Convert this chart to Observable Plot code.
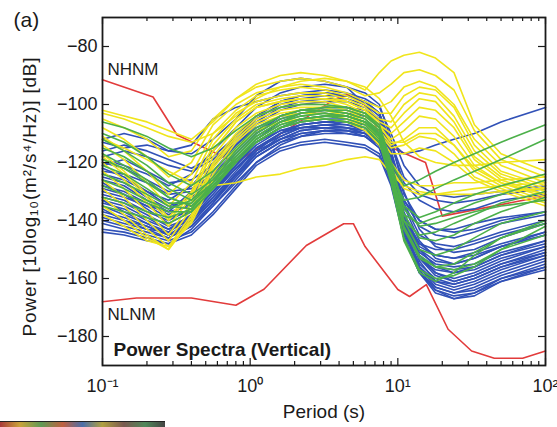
<!DOCTYPE html>
<html><head><meta charset="utf-8">
<script src="https://cdn.jsdelivr.net/npm/d3@7"></script>
<script src="https://cdn.jsdelivr.net/npm/@observablehq/plot@0.6"></script>
<style>
body{margin:0;background:#fff;}
#chart{position:relative;width:557px;height:427px;overflow:hidden;}
#strip{position:absolute;left:0;top:421px;width:165px;height:6px;border-top:1px solid #222;
background:linear-gradient(90deg,#a83a3a 0%,#c9a33a 12%,#5f9a55 25%,#c06040 38%,#4c6ea8 50%,#b0a040 62%,#7a5a50 75%,#50885a 88%,#444 100%);}
</style></head><body><div id="chart"><div id="strip"></div></div>
<script>
const periods = [0.1,0.14,0.2,0.28,0.4,0.56,0.8,1.1,1.6,2.2,3.2,4.5,6,7.5,9,11,14,18,24,33,50,100];

const blueSpectra = [
[-119,-121,-124,-128,-124,-116,-108,-101,-96,-94,-93,-94,-96,-100,-112,-130,-143,-149,-151,-150,-146,-141],
[-122,-125,-130,-133,-128,-120,-111,-104,-99,-97,-96,-97,-99,-103,-116,-135,-147,-153,-155,-153,-149,-144],
[-125,-127,-132,-136,-131,-123,-114,-107,-102,-100,-99,-99,-101,-105,-118,-137,-150,-156,-158,-156,-152,-147],
[-128,-130,-134,-138,-134,-126,-117,-110,-104,-102,-101,-101,-103,-107,-120,-139,-152,-158,-161,-159,-155,-150],
[-131,-133,-137,-140,-136,-128,-119,-112,-106,-103,-102,-103,-104,-108,-121,-140,-154,-161,-163,-161,-157,-152],
[-134,-136,-140,-143,-138,-130,-121,-113,-108,-105,-104,-104,-106,-110,-123,-142,-156,-163,-165,-163,-159,-154],
[-137,-139,-142,-145,-140,-132,-123,-115,-110,-107,-106,-106,-108,-112,-124,-143,-157,-164,-167,-165,-160,-156],
[-140,-142,-144,-146,-142,-134,-125,-117,-112,-109,-108,-108,-109,-113,-126,-145,-158,-165,-167,-166,-161,-157],
[-143,-144,-146,-148,-143,-135,-126,-118,-113,-111,-110,-110,-111,-115,-127,-146,-158,-164,-166,-165,-161,-156],
[-127,-131,-136,-141,-137,-129,-121,-114,-109,-107,-106,-107,-108,-111,-122,-139,-150,-154,-155,-153,-149,-145],
[-133,-137,-141,-144,-139,-131,-122,-115,-111,-108,-107,-108,-110,-113,-124,-141,-151,-155,-156,-155,-151,-147],
[-124,-126,-130,-135,-132,-126,-119,-113,-109,-108,-108,-109,-111,-114,-125,-140,-148,-150,-150,-148,-145,-141],
[-136,-140,-143,-146,-142,-135,-127,-120,-115,-113,-112,-113,-114,-117,-127,-143,-153,-157,-158,-157,-153,-149],
[-130,-132,-135,-137,-130,-121,-113,-106,-101,-99,-98,-98,-100,-104,-117,-134,-145,-148,-149,-147,-144,-140],
[-139,-141,-143,-144,-138,-130,-122,-116,-112,-110,-109,-109,-110,-114,-125,-140,-149,-152,-153,-152,-149,-145],
[-121,-119,-123,-127,-126,-121,-114,-108,-104,-103,-103,-104,-106,-109,-120,-133,-140,-143,-143,-141,-139,-137],
[-112,-110,-112,-116,-114,-105,-101,-99,-97,-96,-95,-96,-98,-101,-110,-121,-128,-131,-132,-131,-130,-128],
[-116,-114,-116,-119,-122,-118,-111,-104,-99,-97,-96,-97,-99,-103,-113,-125,-131,-133,-134,-133,-131,-129],
[-118,-116,-118,-121,-123,-119,-112,-105,-100,-98,-97,-97,-99,-103,-114,-127,-133,-136,-137,-136,-133,-131],
[-113,-115,-114,-116,-117,-112,-105,-97,-92,-91,-92,-94,-100,-106,-113,-117,-116,-114,-112,-110,-106,-101],
[-141,-143,-145,-147,-144,-137,-128,-120,-114,-111,-109,-109,-110,-114,-126,-144,-156,-161,-162,-160,-156,-151],
[-132,-134,-138,-142,-139,-132,-124,-117,-112,-109,-108,-108,-109,-113,-125,-143,-155,-160,-162,-160,-156,-152],
[-126,-128,-133,-137,-135,-128,-120,-113,-108,-106,-105,-105,-107,-111,-123,-141,-153,-158,-160,-158,-154,-149],
[-135,-138,-141,-145,-142,-134,-124,-116,-110,-107,-106,-106,-107,-110,-121,-138,-148,-152,-153,-151,-148,-144],
[-129,-131,-135,-139,-137,-130,-122,-115,-110,-108,-107,-108,-110,-114,-126,-144,-156,-162,-164,-162,-158,-153],
[-138,-140,-142,-145,-141,-133,-124,-117,-111,-108,-107,-107,-109,-113,-124,-141,-153,-159,-161,-159,-155,-151],
[-123,-124,-127,-131,-130,-125,-117,-110,-105,-103,-102,-102,-104,-107,-118,-133,-142,-145,-146,-144,-141,-138],
[-144,-145,-147,-148,-145,-138,-129,-121,-116,-114,-113,-114,-115,-118,-128,-146,-158,-163,-165,-164,-160,-155],
[-120,-122,-126,-130,-129,-124,-116,-109,-104,-102,-101,-101,-102,-105,-116,-131,-140,-143,-144,-143,-140,-137],
[-133,-135,-139,-143,-140,-133,-125,-118,-113,-110,-109,-110,-111,-115,-126,-142,-152,-156,-157,-156,-152,-148]
];

const greenSpectra = [
[-106,-108,-111,-115,-118,-115,-109,-104,-101,-100,-100,-101,-103,-108,-124,-142,-152,-156,-157,-155,-150,-145],
[-110,-113,-118,-124,-128,-123,-115,-108,-104,-102,-102,-103,-105,-110,-126,-146,-157,-160,-159,-156,-150,-142],
[-115,-118,-123,-129,-133,-127,-118,-111,-106,-104,-103,-104,-106,-111,-125,-143,-153,-156,-155,-151,-146,-140],
[-119,-122,-127,-132,-135,-128,-119,-112,-107,-105,-104,-104,-106,-110,-120,-128,-126,-123,-120,-117,-113,-107],
[-124,-127,-131,-135,-136,-128,-119,-112,-107,-105,-104,-105,-107,-112,-124,-133,-132,-129,-126,-123,-119,-112],
[-128,-131,-134,-137,-137,-129,-120,-113,-108,-106,-105,-106,-108,-113,-126,-140,-145,-144,-141,-138,-134,-130],
[-132,-134,-137,-139,-136,-127,-118,-111,-106,-104,-103,-104,-106,-111,-124,-138,-141,-139,-137,-134,-131,-126],
[-112,-116,-121,-127,-131,-126,-117,-110,-105,-103,-102,-102,-104,-108,-120,-136,-142,-141,-139,-137,-135,-133],
[-135,-137,-139,-141,-137,-129,-120,-113,-108,-106,-105,-106,-108,-113,-127,-147,-158,-161,-158,-152,-146,-141],
[-121,-124,-129,-134,-134,-127,-118,-111,-106,-103,-102,-103,-105,-109,-122,-135,-139,-137,-134,-131,-128,-124],
[-117,-121,-126,-132,-135,-129,-120,-113,-108,-105,-104,-104,-106,-110,-123,-140,-150,-152,-150,-146,-141,-137],
[-126,-129,-133,-136,-133,-125,-116,-109,-104,-102,-101,-101,-103,-107,-120,-138,-146,-147,-145,-141,-137,-132]
];

const yellowSpectra = [
[-102,-104,-106,-109,-112,-106,-98,-93,-90,-89,-90,-92,-95,-89,-85,-83,-82,-84,-89,-107,-117,-123],
[-105,-108,-112,-118,-116,-105,-98,-94,-92,-91,-92,-94,-97,-96,-93,-89,-88,-90,-95,-109,-119,-125],
[-108,-112,-118,-125,-120,-107,-100,-96,-94,-93,-94,-96,-99,-101,-99,-94,-92,-94,-100,-112,-121,-127],
[-111,-116,-123,-131,-124,-110,-102,-97,-95,-94,-95,-97,-100,-103,-103,-97,-94,-95,-101,-114,-123,-128],
[-114,-119,-127,-135,-127,-112,-103,-99,-97,-96,-96,-98,-101,-105,-106,-100,-96,-97,-104,-116,-124,-129],
[-117,-123,-131,-139,-130,-114,-105,-100,-98,-97,-97,-99,-102,-106,-108,-103,-98,-99,-106,-118,-125,-130],
[-120,-126,-134,-142,-132,-116,-106,-101,-99,-98,-98,-100,-103,-107,-110,-106,-101,-102,-108,-119,-126,-131],
[-123,-129,-137,-145,-134,-118,-108,-103,-100,-99,-99,-101,-104,-108,-112,-109,-104,-105,-111,-121,-127,-132],
[-126,-132,-140,-147,-136,-120,-110,-104,-101,-100,-100,-102,-105,-109,-114,-112,-108,-108,-114,-123,-128,-133],
[-129,-135,-143,-149,-138,-121,-111,-105,-102,-101,-101,-103,-106,-110,-115,-114,-111,-112,-117,-125,-129,-134],
[-132,-138,-145,-150,-139,-122,-112,-106,-103,-102,-102,-104,-107,-111,-117,-117,-115,-116,-120,-126,-130,-135],
[-112,-115,-119,-123,-127,-128,-127,-125,-124,-122,-121,-119,-118,-119,-124,-128,-130,-131,-131,-131,-130,-129],
[-135,-140,-146,-150,-140,-124,-113,-107,-104,-103,-103,-105,-108,-112,-120,-126,-128,-128,-127,-127,-126,-125],
[-138,-142,-147,-149,-141,-126,-115,-109,-106,-105,-105,-106,-109,-114,-122,-129,-131,-131,-130,-129,-128,-127],
[-103,-105,-108,-111,-113,-110,-104,-98,-94,-92,-91,-92,-94,-98,-104,-113,-118,-120,-121,-121,-120,-119],
[-118,-124,-132,-140,-131,-116,-106,-101,-99,-98,-98,-99,-102,-107,-113,-113,-110,-110,-114,-122,-127,-131]
];

const nhnmPeriods = [0.1,0.22,0.32,0.8,3.8,4.6,6.3,7.9,15.4,20,100];
const nhnmPower   = [-91.5,-97.4,-110.5,-120.0,-98.0,-96.5,-101.0,-113.5,-120.0,-138.5,-131.5];
const nlnmPeriods = [0.1,0.17,0.4,0.8,1.24,2.4,4.3,5,6,10,12,15.6,21.9,31.6,45,70,100];
const nlnmPower   = [-168.0,-166.7,-166.7,-169.2,-163.7,-148.6,-141.1,-141.1,-149.0,-163.8,-166.2,-162.1,-177.5,-185.0,-187.5,-187.5,-185.0];

const yTicks = [-180,-160,-140,-120,-100,-80];
const xMajorTicks = [0.1,1,10,100];
const xTickLabels = ["10⁻¹","10⁰","10¹","10²"];
const xMinorTicks = [0.2,0.3,0.4,0.5,0.6,0.7,0.8,0.9,2,3,4,5,6,7,8,9,20,30,40,50,60,70,80,90];

function toRows(spectra, group) {
  const rows = [];
  spectra.forEach((s, i) => s.forEach((v, j) => rows.push({id: group + i, period: periods[j], power: v})));
  return rows;
}
const blueRows = toRows(blueSpectra, "b");
const greenRows = toRows(greenSpectra, "g");
const yellowRows = toRows(yellowSpectra, "y");
const nhnm = nhnmPeriods.map((p, i) => ({period: p, power: nhnmPower[i]}));
const nlnm = nlnmPeriods.map((p, i) => ({period: p, power: nlnmPower[i]}));

const W = 557, H = 427, mL = 102, mT = 17, mR = 12, mB = 62;
const fw = W - mL - mR, fh = H - mT - mB;
const BLUE = "#3151b7", GREEN = "#4cb04a", YELLOW = "#f0e51c", RED = "#e23b3b", INK = "#1a1a1a";

const chart = Plot.plot({
  width: W, height: H,
  marginLeft: mL, marginTop: mT, marginRight: mR, marginBottom: mB,
  style: {fontFamily: "'Liberation Sans', Arial, sans-serif", fontSize: "17px", color: INK, background: "white"},
  x: {type: "log", domain: [0.1, 100]},
  y: {domain: [-190, -70]},
  marks: [
    Plot.line(nhnm, {x: "period", y: "power", stroke: RED, strokeWidth: 1.6}),
    Plot.line(nlnm, {x: "period", y: "power", stroke: RED, strokeWidth: 1.6}),
    Plot.line(blueRows, {x: "period", y: "power", z: "id", stroke: BLUE, strokeWidth: 1.6}),
    Plot.line(yellowRows, {x: "period", y: "power", z: "id", stroke: YELLOW, strokeWidth: 1.6}),
    Plot.line(greenRows, {x: "period", y: "power", z: "id", stroke: GREEN, strokeWidth: 1.6}),
    Plot.frame({stroke: INK, strokeWidth: 1.8}),
    Plot.tickX(xMajorTicks, {x: d => d, insetTop: fh - 7, stroke: INK, strokeWidth: 1.2}),
    Plot.tickX(xMajorTicks, {x: d => d, insetBottom: fh - 7, stroke: INK, strokeWidth: 1.2}),
    Plot.tickX(xMinorTicks, {x: d => d, insetTop: fh - 4, stroke: INK, strokeWidth: 1.2}),
    Plot.tickX(xMinorTicks, {x: d => d, insetBottom: fh - 4, stroke: INK, strokeWidth: 1.2}),
    Plot.tickY(yTicks, {y: d => d, insetRight: fw - 7, stroke: INK, strokeWidth: 1.2}),
    Plot.tickY(yTicks, {y: d => d, insetLeft: fw - 7, stroke: INK, strokeWidth: 1.2}),
    Plot.axisX({ticks: xMajorTicks, tickFormat: d => xTickLabels[xMajorTicks.indexOf(d)], tickSize: 0, tickPadding: 14, label: null, fontSize: 18}),
    Plot.axisY({ticks: yTicks, tickSize: 0, tickPadding: 5, label: null, fontSize: 18}),
    Plot.text(["Period (s)"], {frameAnchor: "bottom", dy: 46, lineAnchor: "middle", textAnchor: "middle", fontSize: 19}),
    Plot.text(["Power [10log₁₀(m²/s⁴/Hz)] [dB]"], {frameAnchor: "left", rotate: -90, dx: -73, dy: 5, textAnchor: "middle", lineAnchor: "middle", fontSize: 19}),
    Plot.text(["(a)"], {frameAnchor: "top-left", dx: -89, dy: 3, textAnchor: "start", lineAnchor: "middle", fontSize: 21}),
    Plot.text(["NHNM"], {x: () => nhnmPeriods[0], y: () => nhnmPower[0], dx: 5, dy: -10, textAnchor: "start", lineAnchor: "middle", fontSize: 17}),
    Plot.text(["NLNM"], {x: () => nlnmPeriods[0], y: () => nlnmPower[0], dx: 5, dy: 13, textAnchor: "start", lineAnchor: "middle", fontSize: 17}),
    Plot.text(["Power Spectra (Vertical)"], {frameAnchor: "bottom-left", dx: 11, dy: -16, textAnchor: "start", lineAnchor: "middle", fontSize: 19, fontWeight: "bold"})
  ]
});
chart.querySelectorAll("text").forEach(t => {
  if (t.textContent.startsWith("Power [")) t.style.letterSpacing = "0.8px";
});
document.getElementById("chart").prepend(chart);
</script>
</body></html>
